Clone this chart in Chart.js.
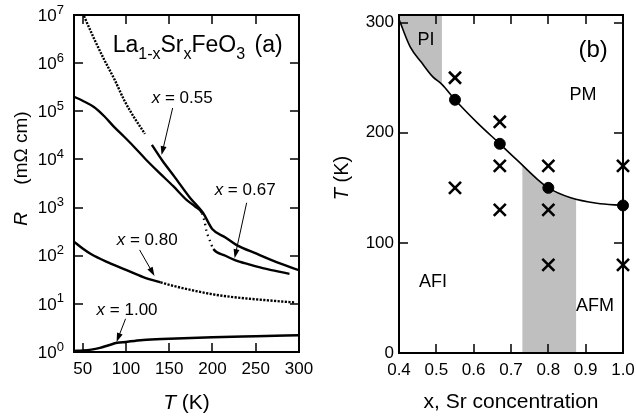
<!DOCTYPE html>
<html>
<head>
<meta charset="utf-8">
<script src="https://cdn.jsdelivr.net/npm/chart.js@4.4.0/dist/chart.umd.min.js"></script>
<style>
  body { margin: 0; background: #fff; }
  #wrap { position: relative; width: 636px; height: 417px; }
  canvas { position: absolute; top: 0; }
</style>
</head>
<body>
<div id="wrap">
  <canvas id="left" width="318" height="417" style="left:0"></canvas>
  <canvas id="right" width="318" height="417" style="left:318px"></canvas>
</div>
<script>
// ---- (a) resistivity vs temperature, R in mOhm cm ----
const t055 = [50, 52, 64, 75, 87, 98, 110, 122, 126, 130, 142, 156, 174, 189, 200, 215, 228, 251, 274, 300];
const r055 = [1.1e7, 9.1e6, 3.0e6, 1.17e6, 4.5e5, 1.7e5, 7.2e4, 3.4e4, null, 2.0e4, 9.5e3, 4.4e3, 1.6e3, 780, 355, 240, 166, 110, 74, 50];

const t067 = [40, 50, 63, 75, 86, 98, 109, 123, 139, 155, 170, 180, 188, 191, 193, 196, 199, 201, 215, 226, 242, 258, 274, 289];
const r067 = [2.0e5, 1.66e5, 1.23e5, 7.9e4, 4.8e4, 2.95e4, 1.86e4, 1.0e4, 5.2e3, 2.75e3, 1.45e3, 1.05e3, 760, 500, 330, 230, 166, 138, 100, 81, 66, 55, 48, 42];

const t080 = [40, 50, 60, 80, 100, 120, 140, 160, 180, 200, 220, 240, 260, 280, 295];
const r080 = [195, 141, 107, 72, 51, 36, 28, 22.4, 18.6, 15.8, 14.1, 12.9, 12.0, 11.2, 10.7];

const t100 = [40, 50, 60, 70, 80, 90, 100, 110, 120, 150, 200, 250, 300];
const r100 = [1.05, 1.07, 1.12, 1.22, 1.38, 1.55, 1.62, 1.70, 1.78, 1.88, 2.02, 2.12, 2.22];

const aTicksT = [50, 100, 150, 200, 250, 300];
const aTicksR = [1e0, 1e1, 1e2, 1e3, 1e4, 1e5, 1e6, 1e7];

// ---- (b) phase diagram ----
const curveX = [0.40, 0.43, 0.46, 0.49, 0.515, 0.55, 0.61, 0.67, 0.72, 0.77, 0.80, 0.86, 0.93, 1.00];
const curveT = [303, 278, 264, 251, 244, 230, 209, 190, 174, 158, 150, 141, 136, 134];
const piX = [0.40, 0.43, 0.46, 0.49, 0.515];
const piT = [303, 278, 264, 251, 244];
const afmX = [0.73, 0.77, 0.80, 0.86, 0.875];
const afmT = [171, 158, 150, 141, 140];
const dotX = [0.55, 0.67, 0.80, 1.00];
const dotT = [230, 190, 150, 134];
const crossX = [0.55, 0.55, 0.67, 0.67, 0.67, 0.80, 0.80, 0.80, 1.00, 1.00];
const crossT = [250, 150, 210, 170, 130, 170, 130, 80, 170, 80];

const bTicksX = [0.4, 0.5, 0.6, 0.7, 0.8, 0.9, 1.0];
const bTicksT = [0, 100, 200, 300];

const FONT = '"Liberation Sans", Arial, Helvetica, sans-serif';
const GRAY = "#bfbfbf";

function pts(xs, ys) {
  return xs.map((x, i) => ({ x: x, y: ys[i] }));
}
function fixedAxis(size) {
  return (scale) => {
    if (scale.isHorizontal()) scale.height = size;
    else scale.width = size;
  };
}
function setTicks(values) {
  return (scale) => {
    scale.ticks = values.map((v) => ({ value: v }));
  };
}

// text made of parts: [text, style] with style "i" (italic) or "sub"
function fontFor(p, size) {
  const s = p[1] === "sub" ? Math.round(size * 0.68) : size;
  return (p[1] === "i" ? "italic " : "") + s + "px " + FONT;
}
function drawRich(ctx, parts, x, y, size, align) {
  let w = 0;
  parts.forEach((p) => {
    ctx.font = fontFor(p, size);
    w += ctx.measureText(p[0]).width;
  });
  let cx = align === "center" ? x - w / 2 : align === "right" ? x - w : x;
  ctx.textAlign = "left";
  parts.forEach((p) => {
    ctx.font = fontFor(p, size);
    ctx.fillText(p[0], cx, y + (p[1] === "sub" ? size * 0.3 : 0));
    cx += ctx.measureText(p[0]).width;
  });
}
function arrow(ctx, x1, y1, x2, y2) {
  const a = Math.atan2(y2 - y1, x2 - x1);
  ctx.lineWidth = 1;
  ctx.beginPath();
  ctx.moveTo(x1, y1);
  ctx.lineTo(x2 - 6 * Math.cos(a), y2 - 6 * Math.sin(a));
  ctx.stroke();
  ctx.beginPath();
  ctx.moveTo(x2, y2);
  ctx.lineTo(x2 - 9 * Math.cos(a) + 3 * Math.sin(a), y2 - 9 * Math.sin(a) - 3 * Math.cos(a));
  ctx.lineTo(x2 - 9 * Math.cos(a) - 3 * Math.sin(a), y2 - 9 * Math.sin(a) + 3 * Math.cos(a));
  ctx.closePath();
  ctx.fill();
}

// frame, inward ticks, tick labels and extra texts
function makeFrame(xLabel, yLabel, extra) {
  return {
    id: "frame",
    afterDraw(chart) {
      const { ctx, chartArea: a, scales: { x, y } } = chart;
      ctx.save();
      ctx.strokeStyle = "#000";
      ctx.fillStyle = "#000";
      ctx.lineWidth = 2;
      ctx.strokeRect(a.left, a.top, a.right - a.left, a.bottom - a.top);
      ctx.lineWidth = 1.5;
      ctx.beginPath();
      x.ticks.forEach((t) => {
        const px = Math.round(x.getPixelForValue(t.value));
        ctx.moveTo(px, a.bottom); ctx.lineTo(px, a.bottom - 9);
        ctx.moveTo(px, a.top); ctx.lineTo(px, a.top + 9);
      });
      y.ticks.forEach((t) => {
        const py = Math.round(y.getPixelForValue(t.value));
        ctx.moveTo(a.left, py); ctx.lineTo(a.left + 9, py);
        ctx.moveTo(a.right, py); ctx.lineTo(a.right - 9, py);
      });
      ctx.stroke();

      ctx.font = "17px " + FONT;
      ctx.textAlign = "center";
      ctx.textBaseline = "middle";
      x.ticks.forEach((t) => ctx.fillText(xLabel(t.value), x.getPixelForValue(t.value), a.bottom + 17));
      y.ticks.forEach((t) => yLabel(ctx, t.value, a.left, y.getPixelForValue(t.value)));
      ctx.textBaseline = "alphabetic";
      extra(ctx, chart);
      ctx.restore();
    },
  };
}

const common = {
  responsive: false,
  animation: false,
  devicePixelRatio: 1,
  plugins: { legend: { display: false }, tooltip: { enabled: false } },
};

// ---------- panel (a) ----------
function curve(xs, ys, extra) {
  return Object.assign({
    data: pts(xs, ys),
    borderColor: "#000",
    borderWidth: 2,
    pointRadius: 0,
    cubicInterpolationMode: "monotone",
    spanGaps: false,
    fill: false,
  }, extra);
}

new Chart(document.getElementById("left"), {
  type: "line",
  data: {
    datasets: [
      curve(t055, r055, { borderWidth: 2.4, segment: { borderDash: (c) => (c.p0.parsed.x < 125 ? [2, 1.3] : undefined) } }),
      curve(t067, r067, { borderWidth: 2.3, segment: { borderDash: (c) => (c.p0.parsed.x >= 188 && c.p0.parsed.x < 200 ? [1.5, 4] : undefined) } }),
      curve(t080, r080, { borderWidth: 2.4, segment: { borderDash: (c) => (c.p0.parsed.x >= 140 ? [2.2, 1.4] : undefined) } }),
      curve(t100, r100, { borderWidth: 2.5 }),
    ],
  },
  options: Object.assign({}, common, {
    layout: { padding: { left: 0, right: 19, top: 15, bottom: 0 } },
    scales: {
      x: {
        type: "linear", min: 40, max: 300,
        grid: { display: false }, border: { display: false }, ticks: { display: false },
        afterBuildTicks: setTicks(aTicksT), afterFit: fixedAxis(65),
      },
      y: {
        type: "logarithmic", min: 1, max: 1e7,
        grid: { display: false }, border: { display: false }, ticks: { display: false },
        afterBuildTicks: setTicks(aTicksR), afterFit: fixedAxis(74),
      },
    },
  }),
  plugins: [
    makeFrame(
      (v) => String(v),
      (ctx, v, left, py) => {
        const e = String(Math.round(Math.log10(v)));
        ctx.font = "13px " + FONT;
        const ew = ctx.measureText(e).width;
        ctx.textAlign = "left";
        ctx.fillText(e, left - 10 - ew, py - 5);
        ctx.font = "17px " + FONT;
        ctx.textAlign = "right";
        ctx.fillText("10", left - 10 - ew, py + 1);
      },
      (ctx, chart) => {
        const { x, y } = chart.scales;
        const a = chart.chartArea;
        const X = (v) => x.getPixelForValue(v);
        const Y = (v) => y.getPixelForValue(v);

        drawRich(ctx, [["La", ""], ["1-x", "sub"], ["Sr", ""], ["x", "sub"], ["FeO", ""], ["3", "sub"]], X(84.7), Y(1.7e6), 23, "left");
        drawRich(ctx, [["(a)", ""]], X(248.6), Y(1.7e6), 23, "left");

        const notes = [
          ["0.55", 129.8, 1.48e5, 154, 1.17e5, 141.2, 1.23e4],
          ["0.67", 202.5, 1.8e3, 239.5, 1.26e3, 225.6, 89],
          ["0.80", 89.3, 166, 115.8, 132, 133, 38],
          ["1.00", 66.1, 5.9, 99.6, 4.9, 89.2, 1.62],
        ];
        notes.forEach((n) => {
          drawRich(ctx, [["x", "i"], [" = " + n[0], ""]], X(n[1]), Y(n[2]), 17, "left");
          arrow(ctx, X(n[3]), Y(n[4]), X(n[5]), Y(n[6]));
        });

        // axis titles
        drawRich(ctx, [["T", "i"], [" (K)", ""]], (a.left + a.right) / 2, 409, 21, "center");
        ctx.save();
        ctx.translate(27, 0);
        ctx.rotate(-Math.PI / 2);
        drawRich(ctx, [["R", "i"]], -219, 0, 19, "center");
        drawRich(ctx, [["(m\u03A9 cm)", ""]], -148, 0, 19, "center");
        ctx.restore();
      }
    ),
  ],
});

// ---------- panel (b) ----------
new Chart(document.getElementById("right"), {
  type: "line",
  data: {
    datasets: [
      {
        data: pts(piX, piT), borderWidth: 0, pointRadius: 0, backgroundColor: GRAY,
        fill: "end", cubicInterpolationMode: "monotone", order: 10,
      },
      {
        data: pts(afmX, afmT), borderWidth: 0, pointRadius: 0, backgroundColor: GRAY,
        fill: "origin", cubicInterpolationMode: "monotone", order: 10,
      },
      {
        data: pts(curveX, curveT), borderColor: "#000", borderWidth: 1.6, pointRadius: 0,
        fill: false, cubicInterpolationMode: "monotone", order: 2,
      },
      {
        data: pts(crossX, crossT), showLine: false, pointStyle: "crossRot", pointRadius: 8.5,
        borderColor: "#000", pointBorderWidth: 2.6, clip: false, order: 1,
      },
      {
        data: pts(dotX, dotT), showLine: false, pointStyle: "circle", pointRadius: 5.5,
        backgroundColor: "#000", borderColor: "#000", clip: false, order: 0,
      },
    ],
  },
  options: Object.assign({}, common, {
    layout: { padding: { left: 0, right: 13, top: 15, bottom: 0 } },
    scales: {
      x: {
        type: "linear", min: 0.4, max: 1.0,
        grid: { display: false }, border: { display: false }, ticks: { display: false },
        afterBuildTicks: setTicks(bTicksX), afterFit: fixedAxis(64),
      },
      y: {
        type: "linear", min: 0, max: 307,
        grid: { display: false }, border: { display: false }, ticks: { display: false },
        afterBuildTicks: setTicks(bTicksT), afterFit: fixedAxis(81),
      },
    },
  }),
  plugins: [
    makeFrame(
      (v) => v.toFixed(1),
      (ctx, v, left, py) => {
        ctx.font = "17px " + FONT;
        ctx.textAlign = "right";
        ctx.fillText(String(v), left - 5, py);
      },
      (ctx, chart) => {
        const { x, y } = chart.scales;
        const a = chart.chartArea;
        const X = (v) => x.getPixelForValue(v);
        const Y = (v) => y.getPixelForValue(v);
        ctx.textBaseline = "middle";
        const labels = [
          ["PI", 0.472, 284.5, 18],
          ["(b)", 0.92, 275, 24],
          ["PM", 0.893, 234.5, 18],
          ["AFI", 0.491, 64.5, 18],
          ["AFM", 0.925, 43, 18],
        ];
        labels.forEach((l) => drawRich(ctx, [[l[0], ""]], X(l[1]), Y(l[2]), l[3], "center"));

        ctx.textBaseline = "alphabetic";
        drawRich(ctx, [["x, Sr concentration", ""]], (a.left + a.right) / 2, 408, 21, "center");
        ctx.save();
        ctx.translate(30, 178);
        ctx.rotate(-Math.PI / 2);
        drawRich(ctx, [["T", "i"], [" (K)", ""]], 0, 0, 20, "center");
        ctx.restore();
      }
    ),
  ],
});
</script>
</body>
</html>
